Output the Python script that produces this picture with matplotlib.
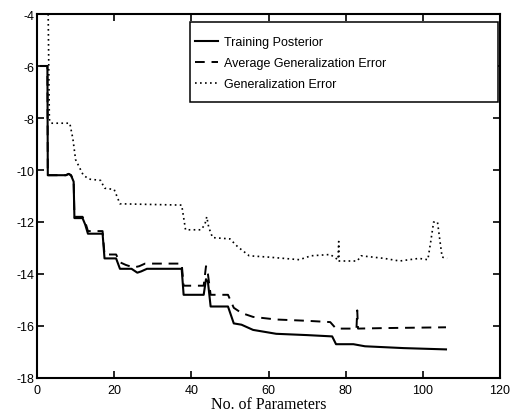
import matplotlib
matplotlib.use("Agg")
import matplotlib.pyplot as plt
from matplotlib.patches import Rectangle

# Training Posterior (solid)
tp_x = [1, 2.7, 2.8, 7.5, 8.2, 8.8, 9.5, 9.7, 11.8, 12.5, 13.2, 17, 17.5, 20.5, 21.5,
        24.5, 26, 27, 28.5, 37.5, 38, 43.2, 43.8, 44.3, 45, 49.5, 51, 53, 56, 58,
        62, 70, 76.5, 77.5, 82, 85, 95, 106]
tp_y = [-6, -6, -10.2, -10.2, -10.15, -10.2, -10.45, -11.85, -11.85, -12.1, -12.45,
        -12.45, -13.4, -13.4, -13.8, -13.8, -13.95, -13.9, -13.8, -13.8, -14.8, -14.8,
        -14.2, -14.3, -15.25, -15.25, -15.9, -15.95, -16.15, -16.2, -16.3, -16.35,
        -16.4, -16.7, -16.7, -16.78, -16.85, -16.9]

# Average Generalization Error (dashed)
ag_x = [1, 2.7, 2.8, 7.5, 8.2, 8.8, 9.5, 9.7, 11.8, 12.5, 13.2, 17, 17.5, 20.5, 21.5,
        23, 25, 26.5, 28, 37.5, 38, 43.2, 43.8, 44.3, 45, 49.5, 51, 53, 56, 62, 70,
        76, 77.5, 82.8, 83, 83.2, 90, 106]
ag_y = [-6, -6, -10.2, -10.2, -10.15, -10.2, -10.4, -11.8, -11.8, -12.0, -12.35,
        -12.35, -13.25, -13.25, -13.55, -13.65, -13.75, -13.7, -13.6, -13.6, -14.45,
        -14.45, -13.7, -14.0, -14.8, -14.8, -15.3, -15.5, -15.65, -15.75, -15.8,
        -15.85, -16.1, -16.1, -15.4, -16.1, -16.08, -16.05]

# Generalization Error (dotted)
ge_x = [2.9, 3.2, 3.6, 8.5, 9.3, 10, 11, 12, 13.5, 16.5, 17.5, 20, 21.5, 37.5, 38.5,
        42.5, 43.5, 44, 44.5, 45.5, 50, 52, 55, 60, 68, 71, 76, 78, 78.2, 78.3, 83,
        84, 90, 94, 99, 101.3, 102, 102.8, 103.8, 104.5, 105, 106.3]
ge_y = [-4.0, -8.05, -8.2, -8.2, -8.8, -9.6, -9.9, -10.2, -10.35, -10.4, -10.7,
        -10.75, -11.3, -11.35, -12.3, -12.3, -12.1, -11.8, -12.2, -12.6, -12.65,
        -12.95, -13.3, -13.35, -13.45, -13.3, -13.25, -13.45, -12.75, -13.5, -13.5,
        -13.3, -13.4, -13.5, -13.4, -13.45, -12.8, -12.0, -12.0, -12.8, -13.35, -13.4]

labels = ["Training Posterior", "Average Generalization Error", "Generalization Error"]
x_ticks = [0, 20, 40, 60, 80, 100, 120]
y_ticks = [-18, -16, -14, -12, -10, -8, -6, -4]

W, H = 512, 414
fig = plt.figure(figsize=(W/100, H/100), dpi=100)
ax_l, ax_r, ax_t, ax_b = 37, 500, 15, 379
ax = fig.add_axes([ax_l/W, 1-ax_b/H, (ax_r-ax_l)/W, (ax_b-ax_t)/H])

ax.plot(tp_x, tp_y, color="black", lw=1.5, ls="-", label=labels[0])
ax.plot(ag_x, ag_y, color="black", lw=1.4, ls=(0, (5, 3.5)), label=labels[1])
ax.plot(ge_x, ge_y, color="black", lw=1.2, ls=(0, (1, 2)), label=labels[2])

ax.set_xlim(0, 120)
ax.set_ylim(-18, -4)
ax.set_xticks(x_ticks)
ax.set_yticks(y_ticks)
ax.set_xticklabels([str(t) for t in x_ticks], family="Liberation Sans", fontsize=9)
ax.set_yticklabels([str(t) for t in y_ticks], family="Liberation Sans", fontsize=9)
ax.tick_params(direction="in", top=True, right=True, length=5, width=1.2)
ax.tick_params(axis="x", pad=4)
ax.tick_params(axis="y", pad=2)
for s in ax.spines.values():
    s.set_linewidth(1.5)

ax.set_xlabel("No. of Parameters", family="Liberation Serif", fontsize=11.5, labelpad=0)

# legend box (pixel extents converted to axes fractions)
def ax_fx(px):
    return (px - ax_l) / (ax_r - ax_l)

def ax_fy(py):
    return (ax_b - py) / (ax_b - ax_t)

box = Rectangle((ax_fx(190), ax_fy(103)), ax_fx(498) - ax_fx(190), ax_fy(23) - ax_fy(103),
                transform=ax.transAxes, facecolor="white", edgecolor="black", lw=1.1, zorder=4)
ax.add_patch(box)
leg = ax.legend(loc="upper left", bbox_to_anchor=(ax_fx(190), ax_fy(32)),
                prop={"family": "Liberation Sans", "size": 9}, frameon=False,
                handlelength=1.8, handletextpad=0.55, labelspacing=0.72,
                borderpad=0.4, borderaxespad=0)
leg.set_zorder(5)

fig.savefig("out.png", dpi=100)
